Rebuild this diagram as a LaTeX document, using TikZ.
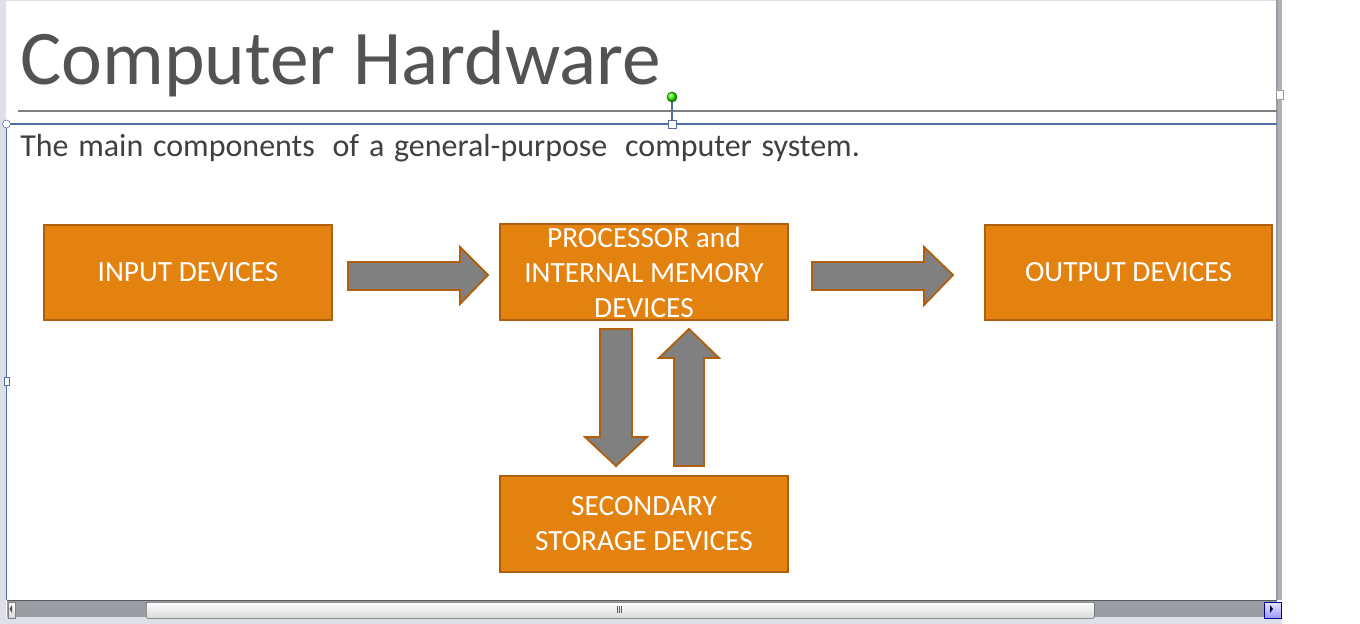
\documentclass[tikz,border=0pt]{standalone}
\usepackage{fontspec}
\setmainfont{Carlito}
\definecolor{boxfill}{HTML}{E4820F}
\definecolor{boxedge}{HTML}{B0600C}
\definecolor{arrowfill}{HTML}{808080}
\definecolor{txtgrey}{HTML}{404040}
\definecolor{selblue}{HTML}{4F6FA0}
\definecolor{chrome}{HTML}{DDE1E7}
\definecolor{sbar}{HTML}{9A9EA4}
\tikzset{
  hwbox/.style={draw=boxedge, line width=1.5pt, fill=boxfill, text=white,
    font=\fontsize{22}{26.25}\selectfont, align=center, inner sep=0pt},
  bigarrow/.style={draw=boxedge, line width=1.4pt, fill=arrowfill, line join=miter},
}
\begin{document}
\begin{tikzpicture}[x=0.75pt,y=-0.75pt]
\useasboundingbox (0,0) rectangle (1360,624);
\fill[white] (0,0) rectangle (1360,624);
% window chrome
\fill[chrome] (0,0) rectangle (6,624);
\fill[chrome] (0,0) rectangle (1276,1.5);
\fill[chrome] (0,617) rectangle (1282,624);
\fill[sbar!80] (1276,0) rectangle (1282,600);
\draw[sbar, line width=0.8pt] (1277,0) -- (1277,600);
\node[draw=sbar, fill=white, minimum width=5pt, minimum height=7pt, inner sep=0pt] (rh) at (1280,95) {};
% scrollbar
\fill[sbar] (7,600) rectangle (1277,617);
\draw[gray!70!black, line width=0.6pt] (7,600.5) -- (1277,600.5);
\node[draw=gray, top color=white, bottom color=gray!30, minimum width=5.25pt, minimum height=12pt, inner sep=0pt, anchor=north west] (lb) at (8,602) {};
\node[draw=gray!80!black, top color=white, bottom color=gray!30, rounded corners=1pt, minimum width=948*0.75pt, minimum height=12pt, inner sep=0pt, anchor=north west] (thumb) at (146,602) {};
\draw[gray!70!black, line width=0.4pt] (617,606) -- (617,613) (619,606) -- (619,613) (621,606) -- (621,613);
\node[draw=blue!60!black, top color=blue!10, bottom color=blue!40, minimum width=13pt, minimum height=12pt, inner sep=0pt, anchor=north west] (rb) at (1264,602) {};
\fill[gray!60!black] (12,605) -- (12,613) -- (9.5,609) -- cycle;
\fill[blue!30!black] (1270,605) -- (1270,613) -- (1273,609) -- cycle;
% title
\node[anchor=base west, text=txtgrey!90!white, font=\fontsize{58}{66}\selectfont, inner sep=0pt] (title) at (20,85) {Computer Hardware};
\draw[gray, line width=1.6pt] (18,111) -- (1277,111);
% selection frame
\draw[selblue, line width=0.8pt] (6.5,124) -- (1277,124);
\draw[selblue, line width=0.8pt] (6.5,124) -- (6.5,600);
\coordinate (hTop) at (672,97);
\node[draw=selblue, fill=white, minimum size=6pt, inner sep=0pt] (hBox) at (672,124) {};
\draw[selblue, line width=0.8pt] (hTop) -- (hBox);
\node[circle, draw=green!40!black, ball color=green!70!lime, minimum size=7.5pt, inner sep=0pt] (hRot) at (hTop) {};
\node[circle, draw=selblue, fill=white, minimum size=6pt, inner sep=0pt] (hL) at (6.5,124) {};
\node[draw=selblue, fill=white, minimum width=4pt, minimum height=6pt, inner sep=0pt] (hM) at (6.5,381) {};
% subtitle
\node[anchor=base west, text=txtgrey, font=\fontsize{24}{28}\selectfont, inner sep=0pt] (sub) at (20,157) {\spaceskip=7.3pt The main components\hspace{6pt} of a general-purpose\hspace{6pt} computer system.};
% boxes
\node[hwbox, minimum width=288*0.75pt, minimum height=95*0.75pt] (inp) at (188,272.5) {INPUT DEVICES};
\node[hwbox, minimum width=288*0.75pt, minimum height=96*0.75pt] (proc) at (644,272) {PROCESSOR and\\INTERNAL MEMORY\\DEVICES};
\node[hwbox, minimum width=287*0.75pt, minimum height=95*0.75pt] (out) at (1128.5,272.5) {OUTPUT DEVICES};
\node[hwbox, minimum width=288*0.75pt, minimum height=96*0.75pt] (sec) at (644,524) {SECONDARY\\STORAGE DEVICES};
% arrows
\draw[bigarrow] (348,262) -- (460,262) -- (460,247) -- (488,275) -- (460,304) -- (460,290) -- (348,290) -- cycle;
\draw[bigarrow] (812,262) -- (924,262) -- (924,247) -- (953,275) -- (924,305) -- (924,290) -- (812,290) -- cycle;
\draw[bigarrow] (600,329) -- (632,329) -- (632,437) -- (647,437) -- (616,466) -- (585,437) -- (600,437) -- cycle;
\draw[bigarrow] (689,329) -- (719,358) -- (704,358) -- (704,466) -- (674,466) -- (674,358) -- (659,358) -- cycle;
\end{tikzpicture}
\end{document}
